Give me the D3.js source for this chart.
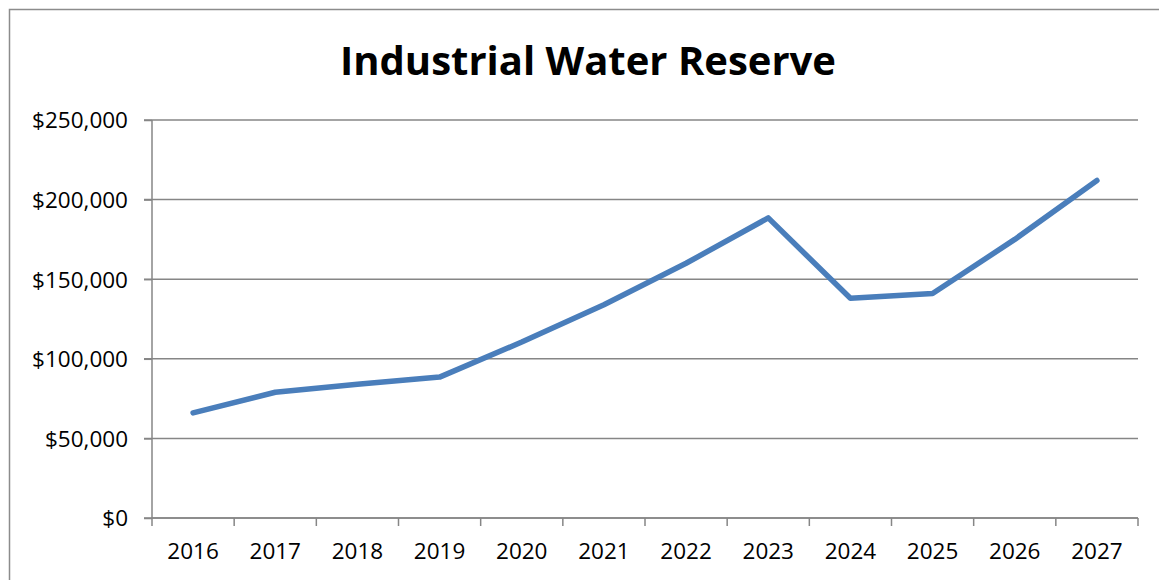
<!DOCTYPE html>
<html>
<head>
<meta charset="utf-8">
<script src="https://cdn.jsdelivr.net/npm/d3@7"></script>
<style>
  body { margin: 0; background: #fff; }
  text { font-family: "Open Sans", "DejaVu Sans", sans-serif; }
</style>
</head>
<body>
<figure id="chart" style="margin:0"></figure>
<script>
// chart data
var years = ["2016", "2017", "2018", "2019", "2020", "2021", "2022", "2023", "2024", "2025", "2026", "2027"];
var reserve = [66000, 79000, 84000, 88500, 110500, 134000, 160000, 188500, 138000, 141000, 175000, 212000];
var yTicks = [0, 50000, 100000, 150000, 200000, 250000];

var W = 1159, H = 580;
var margin = {top: 120, right: 21, bottom: 62, left: 152},
    width = W - margin.left - margin.right,
    height = H - margin.top - margin.bottom;

var root = d3.select("figure#chart")
  .append("svg")
    .attr("width", W)
    .attr("height", H);

// outer chart border
root.append("rect")
  .attr("x", 9.5).attr("y", 9.5)
  .attr("width", W + 20).attr("height", H + 20)
  .attr("fill", "none")
  .attr("stroke", "#8c8c8c")
  .attr("stroke-width", 1.5);

root.append("text")
  .attr("x", 588)
  .attr("y", 75)
  .attr("text-anchor", "middle")
  .style("font-size", "40px")
  .style("font-weight", "bold")
  .text("Industrial Water Reserve");

var svg = root.append("g")
  .attr("transform", "translate(" + margin.left + "," + margin.top + ")");

var x = d3.scaleBand().domain(years).range([0, width]);
var y = d3.scaleLinear().domain([0, 250000]).range([height, 0]);

// gridlines
svg.append("g")
  .selectAll("line")
  .data(yTicks)
  .join("line")
    .attr("x1", -8).attr("x2", width)
    .attr("y1", function(d) { return y(d); })
    .attr("y2", function(d) { return y(d); })
    .attr("stroke", "#868686")
    .attr("stroke-width", 1.5);

// y axis
var yAxis = svg.append("g")
  .call(d3.axisLeft(y)
    .tickValues(yTicks)
    .tickSize(8)
    .tickPadding(16)
    .tickFormat(function(d) { return "$" + d3.format(",")(d); }));
yAxis.select(".domain").attr("stroke", "#868686").attr("stroke-width", 1.5).attr("d", "M0,0V" + height);
yAxis.selectAll(".tick line").attr("stroke", "#868686").attr("stroke-width", 1.5);
yAxis.selectAll("text").style("font-size", "22.5px").attr("fill", "#000").attr("dy", "0.35em");

// x axis with ticks at category boundaries
var xAxis = svg.append("g")
  .attr("transform", "translate(0," + height + ")")
  .call(d3.axisBottom(x).tickSize(0).tickPadding(25));
xAxis.select(".domain").attr("stroke", "#868686").attr("stroke-width", 1.5).attr("d", "M0,0H" + width);
xAxis.selectAll("text").style("font-size", "22.5px").attr("fill", "#000");
xAxis.selectAll(".bound")
  .data(d3.range(years.length + 1))
  .join("line")
    .attr("class", "bound")
    .attr("x1", function(i) { return i * x.step(); })
    .attr("x2", function(i) { return i * x.step(); })
    .attr("y1", 0).attr("y2", 8)
    .attr("stroke", "#868686")
    .attr("stroke-width", 1.5);

// the line
svg.append("path")
  .datum(reserve)
  .attr("fill", "none")
  .attr("stroke", "#4a7ebb")
  .attr("stroke-width", 5.5)
  .attr("stroke-linecap", "round")
  .attr("stroke-linejoin", "round")
  .attr("d", d3.line()
    .x(function(d, i) { return x(years[i]) + x.bandwidth() / 2; })
    .y(function(d) { return y(d); }));
</script>
</body>
</html>
